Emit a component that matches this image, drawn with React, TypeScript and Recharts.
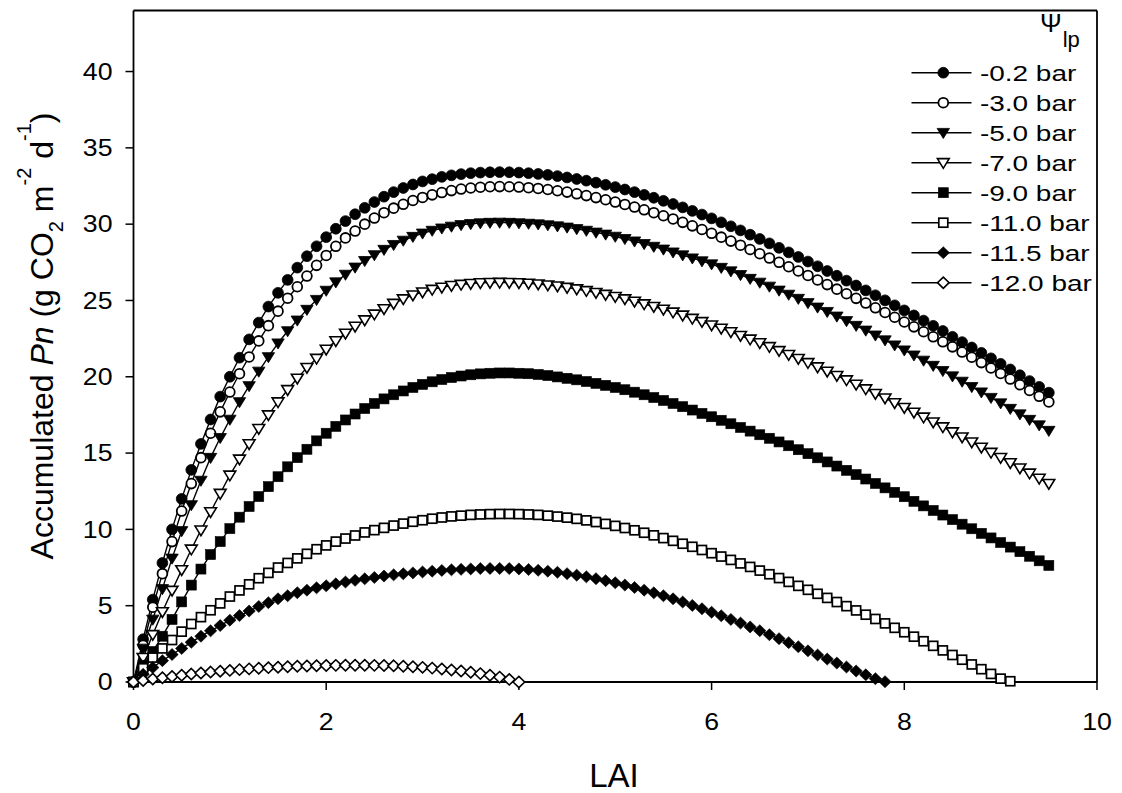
import React from "react";
import { LineChart, Line, XAxis, YAxis, ReferenceLine } from "recharts";

// LAI grid (x categories), step 0.1 from 0 to 9.5
const LAI = [
  0, 0.1, 0.2, 0.3, 0.4, 0.5, 0.6, 0.7, 0.8, 0.9,
  1.0, 1.1, 1.2, 1.3, 1.4, 1.5, 1.6, 1.7, 1.8, 1.9,
  2.0, 2.1, 2.2, 2.3, 2.4, 2.5, 2.6, 2.7, 2.8, 2.9,
  3.0, 3.1, 3.2, 3.3, 3.4, 3.5, 3.6, 3.7, 3.8, 3.9,
  4.0, 4.1, 4.2, 4.3, 4.4, 4.5, 4.6, 4.7, 4.8, 4.9,
  5.0, 5.1, 5.2, 5.3, 5.4, 5.5, 5.6, 5.7, 5.8, 5.9,
  6.0, 6.1, 6.2, 6.3, 6.4, 6.5, 6.6, 6.7, 6.8, 6.9,
  7.0, 7.1, 7.2, 7.3, 7.4, 7.5, 7.6, 7.7, 7.8, 7.9,
  8.0, 8.1, 8.2, 8.3, 8.4, 8.5, 8.6, 8.7, 8.8, 8.9,
  9.0, 9.1, 9.2, 9.3, 9.4, 9.5,
];

const P_02 = [
  0, 2.8, 5.4, 7.8, 10.0, 12.0, 13.9, 15.6, 17.2, 18.7,
  20.0, 21.25, 22.45, 23.55, 24.6, 25.5, 26.35, 27.15, 27.9, 28.55,
  29.15, 29.7, 30.2, 30.65, 31.07, 31.45, 31.8, 32.1, 32.37, 32.6,
  32.8, 32.95, 33.1, 33.2, 33.28, 33.34, 33.38, 33.4, 33.41, 33.4,
  33.38, 33.34, 33.29, 33.23, 33.15, 33.06, 32.96, 32.85, 32.72, 32.58,
  32.43, 32.27, 32.1, 31.92, 31.73, 31.53, 31.32, 31.1, 30.87, 30.63,
  30.38, 30.12, 29.86, 29.59, 29.31, 29.03, 28.74, 28.45, 28.15, 27.85,
  27.55, 27.24, 26.93, 26.62, 26.3, 25.98, 25.66, 25.34, 25.01, 24.68,
  24.35, 24.02, 23.68, 23.34, 23.0, 22.62, 22.27, 21.92, 21.57, 21.21,
  20.85, 20.48, 20.1, 19.72, 19.34, 18.96,
];

const P_30 = [
  0, 2.4, 4.9, 7.1, 9.2, 11.2, 13.0, 14.7, 16.3, 17.7,
  19.0, 20.2, 21.3, 22.35, 23.35, 24.3, 25.15, 25.9, 26.6, 27.3,
  27.95, 28.55, 29.1, 29.55, 30.0, 30.4, 30.75, 31.05, 31.3, 31.55,
  31.75, 31.92, 32.07, 32.2, 32.3, 32.37, 32.42, 32.45, 32.46, 32.45,
  32.43, 32.39, 32.34, 32.27, 32.19, 32.1, 31.99, 31.87, 31.74, 31.6,
  31.45, 31.29, 31.12, 30.94, 30.75, 30.55, 30.34, 30.12, 29.89, 29.65,
  29.4, 29.15, 28.89, 28.62, 28.34, 28.06, 27.78, 27.5, 27.21, 26.93,
  26.64, 26.34, 26.04, 25.74, 25.44, 25.14, 24.83, 24.52, 24.21, 23.9,
  23.59, 23.27, 22.95, 22.62, 22.29, 21.96, 21.62, 21.28, 20.93, 20.58,
  20.22, 19.85, 19.48, 19.1, 18.72, 18.35,
];

const P_50 = [
  0, 2.2, 4.1, 6.1, 8.1, 9.9, 11.6, 13.2, 14.7, 16.0,
  17.2, 18.35, 19.4, 20.35, 21.3, 22.2, 23.0, 23.7, 24.4, 25.05,
  25.65, 26.2, 26.7, 27.17, 27.6, 27.98, 28.33, 28.65, 28.93, 29.18,
  29.4, 29.58, 29.73, 29.85, 29.95, 30.02, 30.07, 30.1, 30.11, 30.1,
  30.07, 30.04, 30.0, 29.94, 29.87, 29.79, 29.69, 29.58, 29.46, 29.33,
  29.19, 29.04, 28.88, 28.71, 28.53, 28.35, 28.16, 27.97, 27.77, 27.58,
  27.38, 27.15, 26.92, 26.68, 26.43, 26.18, 25.92, 25.66, 25.39, 25.12,
  24.84, 24.55, 24.26, 23.96, 23.66, 23.35, 23.04, 22.72, 22.4, 22.07,
  21.74, 21.41, 21.07, 20.73, 20.39, 20.04, 19.69, 19.34, 18.99, 18.63,
  18.27, 17.91, 17.55, 17.19, 16.83, 16.47,
];

const P_70 = [
  0, 1.6, 3.1, 4.6, 6.0, 7.35, 8.7, 9.95, 11.15, 12.35,
  13.55, 14.6, 15.6, 16.6, 17.5, 18.35, 19.15, 19.9, 20.6, 21.2,
  21.8, 22.35, 22.85, 23.3, 23.72, 24.1, 24.45, 24.8, 25.1, 25.35,
  25.55, 25.72, 25.86, 25.97, 26.05, 26.11, 26.15, 26.17, 26.18, 26.17,
  26.15, 26.12, 26.07, 26.01, 25.94, 25.85, 25.75, 25.64, 25.52, 25.39,
  25.25, 25.1, 24.94, 24.77, 24.6, 24.42, 24.23, 24.03, 23.82, 23.61,
  23.39, 23.17, 22.94, 22.7, 22.46, 22.22, 21.97, 21.71, 21.45, 21.19,
  20.92, 20.64, 20.36, 20.08, 19.79, 19.5, 19.2, 18.9, 18.6, 18.29,
  17.98, 17.67, 17.35, 17.03, 16.71, 16.38, 16.05, 15.72, 15.38, 15.04,
  14.7, 14.36, 14.02, 13.68, 13.34, 13.0,
];

const P_90 = [
  0, 1.1, 2.0, 3.0, 4.1, 5.25, 6.35, 7.4, 8.35, 9.2,
  10.05, 10.8, 11.5, 12.15, 12.8, 13.45, 14.1, 14.7, 15.25, 15.8,
  16.3, 16.75, 17.17, 17.56, 17.92, 18.25, 18.55, 18.82, 19.07, 19.3,
  19.5, 19.67, 19.82, 19.95, 20.05, 20.13, 20.19, 20.23, 20.25, 20.25,
  20.23, 20.2, 20.15, 20.08, 19.99, 19.9, 19.8, 19.69, 19.57, 19.44,
  19.3, 19.15, 18.99, 18.82, 18.64, 18.45, 18.25, 18.04, 17.82, 17.6,
  17.38, 17.15, 16.92, 16.68, 16.44, 16.2, 15.97, 15.73, 15.48, 15.22,
  14.96, 14.69, 14.42, 14.15, 13.87, 13.59, 13.3, 13.01, 12.72, 12.43,
  12.14, 11.84, 11.54, 11.24, 10.94, 10.64, 10.34, 10.04, 9.74, 9.44,
  9.14, 8.84, 8.54, 8.24, 7.94, 7.64,
];

const P_110 = [
  0, 0.9, 1.6, 2.2, 2.75, 3.3, 3.8, 4.25, 4.7, 5.15,
  5.6, 6.0, 6.4, 6.8, 7.15, 7.5, 7.8, 8.1, 8.4, 8.7,
  8.95, 9.2, 9.4, 9.6, 9.8, 9.95, 10.1, 10.25, 10.38, 10.5,
  10.6, 10.7, 10.78, 10.85, 10.9, 10.95, 10.98, 11.0, 11.01, 11.01,
  11.0, 10.98, 10.95, 10.9, 10.84, 10.77, 10.69, 10.59, 10.48, 10.36,
  10.23, 10.09, 9.94, 9.78, 9.61, 9.43, 9.25, 9.06, 8.86, 8.65,
  8.44, 8.22, 8.0, 7.77, 7.54, 7.3, 7.06, 6.81, 6.56, 6.3,
  6.04, 5.78, 5.51, 5.24, 4.97, 4.69, 4.41, 4.13, 3.84, 3.55,
  3.26, 2.97, 2.67, 2.37, 2.07, 1.77, 1.46, 1.15, 0.84, 0.53,
  0.22, 0.05,
];

const P_115 = [
  0, 0.5, 0.95, 1.4, 1.8, 2.2, 2.6, 3.0, 3.35, 3.7,
  4.05, 4.35, 4.65, 4.95, 5.2, 5.45, 5.65, 5.85, 6.02, 6.17,
  6.3, 6.43, 6.55, 6.66, 6.76, 6.85, 6.94, 7.02, 7.09, 7.15,
  7.21, 7.26, 7.31, 7.35, 7.38, 7.41, 7.43, 7.44, 7.44, 7.43,
  7.41, 7.37, 7.32, 7.26, 7.19, 7.1, 7.0, 6.89, 6.77, 6.64,
  6.5, 6.35, 6.19, 6.02, 5.84, 5.65, 5.45, 5.24, 5.02, 4.8,
  4.57, 4.34, 4.1, 3.86, 3.61, 3.36, 3.1, 2.84, 2.58, 2.31,
  2.04, 1.77, 1.5, 1.24, 0.98, 0.72, 0.47, 0.22, 0.02,
];

const P_120 = [
  0, 0.1, 0.2, 0.28, 0.36, 0.44, 0.52, 0.59, 0.65, 0.71,
  0.76, 0.81, 0.86, 0.9, 0.94, 0.97, 1.0, 1.03, 1.05, 1.07,
  1.08, 1.09, 1.1, 1.1, 1.1, 1.09, 1.08, 1.06, 1.03, 1.0,
  0.96, 0.91, 0.85, 0.79, 0.72, 0.64, 0.55, 0.44, 0.32, 0.17,
  0.0,
];

const SERIES_LABELS = ["-0.2 bar", "-3.0 bar", "-5.0 bar", "-7.0 bar", "-9.0 bar", "-11.0 bar", "-11.5 bar", "-12.0 bar"];
const SERIES_VALUES = [P_02, P_30, P_50, P_70, P_90, P_110, P_115, P_120];
const SERIES_MARKERS = ["circleFilled", "circleOpen", "triFilled", "triOpen", "sqFilled", "sqOpen", "diaFilled", "diaOpen"];

const X_TICKS = [0, 2, 4, 6, 8, 10];
const Y_TICKS = [0, 5, 10, 15, 20, 25, 30, 35, 40];

const FONT = "'Liberation Sans', Arial, Helvetica, sans-serif";
const TICK_FS = 23;
const TICK_SX = 1.16;

function Marker({ kind, cx, cy }: { kind: string; cx: number; cy: number }) {
  if (cx == null || cy == null || isNaN(cx) || isNaN(cy)) return null;
  switch (kind) {
    case "circleFilled":
      return <circle cx={cx} cy={cy} r={5.4} fill="#000" stroke="#000" strokeWidth={0.8} />;
    case "circleOpen":
      return <circle cx={cx} cy={cy} r={4.9} fill="#fff" stroke="#000" strokeWidth={1.8} />;
    case "triFilled":
      return (
        <polygon
          points={`${cx - 6.2},${cy - 4.3} ${cx + 6.2},${cy - 4.3} ${cx},${cy + 5.8}`}
          fill="#000"
          stroke="#000"
          strokeWidth={0.8}
        />
      );
    case "triOpen":
      return (
        <polygon
          points={`${cx - 5.9},${cy - 4.1} ${cx + 5.9},${cy - 4.1} ${cx},${cy + 5.6}`}
          fill="#fff"
          stroke="#000"
          strokeWidth={1.6}
        />
      );
    case "sqFilled":
      return <rect x={cx - 5} y={cy - 5} width={10} height={10} fill="#000" stroke="#000" strokeWidth={0.6} />;
    case "sqOpen":
      return <rect x={cx - 4.5} y={cy - 4.5} width={9} height={9} fill="#fff" stroke="#000" strokeWidth={1.7} />;
    case "diaFilled":
      return (
        <polygon
          points={`${cx},${cy - 6} ${cx + 6.2},${cy} ${cx},${cy + 6} ${cx - 6.2},${cy}`}
          fill="#000"
          stroke="#000"
          strokeWidth={0.6}
        />
      );
    case "diaOpen":
      return (
        <polygon
          points={`${cx},${cy - 5.6} ${cx + 5.8},${cy} ${cx},${cy + 5.6} ${cx - 5.8},${cy}`}
          fill="#fff"
          stroke="#000"
          strokeWidth={1.6}
        />
      );
    default:
      return null;
  }
}

function YTick(props: any) {
  const { x, y, payload } = props;
  return (
    <g transform={`translate(${x},${y}) scale(${TICK_SX},1)`}>
      <text x={0} y={0} dy="0.36em" textAnchor="end" fontFamily={FONT} fontSize={TICK_FS} fill="#000">
        {payload.value}
      </text>
    </g>
  );
}

function XTick(props: any) {
  const { x, y, payload } = props;
  return (
    <g transform={`translate(${x},${y}) scale(${TICK_SX},1)`}>
      <text x={0} y={40} textAnchor="middle" fontFamily={FONT} fontSize={TICK_FS} fill="#000">
        {payload.value}
      </text>
    </g>
  );
}

const W = 1110;
const H = 780;

export default function App() {
  const seriesData = SERIES_VALUES.map((vals) =>
    LAI.slice(0, vals.length).map((x, i) => ({ x, y: vals[i] }))
  );

  // legend geometry (container coords)
  const legRow0 = 64.7;
  const legStep = 30;
  const legLineX1 = 903.5;
  const legLineX2 = 963.5;
  const legMarkX = 935.3;
  const legTextX = 972;

  return (
    <div style={{ position: "relative", width: W, height: H, background: "#fff" }}>
      <LineChart width={W} height={H} margin={{ top: 2.5, right: 21, left: 0, bottom: 0 }}>
        <XAxis
          type="number"
          dataKey="x"
          domain={[0, 10]}
          ticks={X_TICKS}
          allowDuplicatedCategory={false}
          height={106}
          tickSize={8}
          tickMargin={0}
          axisLine={{ stroke: "#000", strokeWidth: 1.8 }}
          tickLine={{ stroke: "#000", strokeWidth: 1.5 }}
          tick={<XTick />}
        />
        <YAxis
          type="number"
          dataKey="y"
          domain={[0, 44]}
          ticks={Y_TICKS}
          width={125.5}
          tickSize={8}
          tickMargin={13}
          axisLine={{ stroke: "#000", strokeWidth: 1.8 }}
          tickLine={{ stroke: "#000", strokeWidth: 1.5 }}
          tick={<YTick />}
        />
        <ReferenceLine y={44} stroke="#000" strokeWidth={1.8} />
        <ReferenceLine x={10} stroke="#000" strokeWidth={1.8} />
        {seriesData.map((d, si) => (
          <Line
            key={SERIES_LABELS[si]}
            name={SERIES_LABELS[si]}
            data={d}
            dataKey="y"
            type="linear"
            stroke="#000"
            strokeWidth={1.4}
            isAnimationActive={false}
            activeDot={false}
            dot={(p: any) => (
              <Marker key={`${si}-${p.index}`} kind={SERIES_MARKERS[si]} cx={p.cx} cy={p.cy} />
            )}
          />
        ))}
      </LineChart>

      <svg
        width={W}
        height={785}
        style={{ position: "absolute", left: 0, top: 0, pointerEvents: "none", overflow: "visible" }}
      >
        {/* legend title */}
        <text x={1032} y={24} fontFamily={FONT} fontSize={26} fill="#000">
          Ψ
          <tspan dx={1} dy={15} fontSize={22}>lp</tspan>
        </text>
        {SERIES_LABELS.map((lab, i) => {
          const y = legRow0 + legStep * i;
          return (
            <g key={lab}>
              <line x1={legLineX1} y1={y} x2={legLineX2} y2={y} stroke="#000" strokeWidth={1.6} />
              <Marker kind={SERIES_MARKERS[i]} cx={legMarkX} cy={y} />
              <g transform={`translate(${legTextX},${y}) scale(1.27,1)`}>
                <text x={0} y={0} dy="0.36em" fontFamily={FONT} fontSize={22} fill="#000">
                  {lab}
                </text>
              </g>
            </g>
          );
        })}

        {/* x axis title */}
        <text x={606} y={779} textAnchor="middle" fontFamily={FONT} fontSize={33} fill="#000">
          LAI
        </text>

        {/* y axis title */}
        <text
          transform="translate(45,328) rotate(-90)"
          textAnchor="middle"
          fontFamily={FONT}
          fontSize={32}
          fill="#000"
        >
          <tspan>Accumulated </tspan>
          <tspan fontStyle="italic">Pn</tspan>
          <tspan> (g CO</tspan>
          <tspan fontSize={20} dy={10}>2</tspan>
          <tspan dy={-10}> m</tspan>
          <tspan fontSize={20} dy={-22}>-2</tspan>
          <tspan dy={22}> d</tspan>
          <tspan fontSize={20} dy={-22}>-1</tspan>
          <tspan dy={22}>)</tspan>
        </text>
      </svg>
    </div>
  );
}
